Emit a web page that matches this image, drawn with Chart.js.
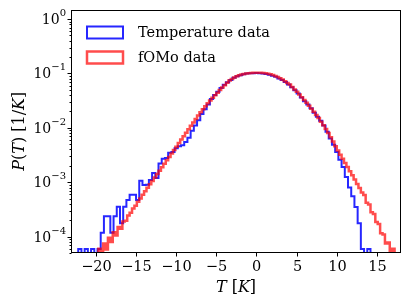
<!DOCTYPE html>
<html>
<head>
<meta charset="utf-8">
<script src="https://cdn.jsdelivr.net/npm/chart.js@4.4.1/dist/chart.umd.min.js"></script>
<style>
  html, body { margin: 0; padding: 0; background: #fff; }
  canvas { display: block; }
</style>
</head>
<body>
<canvas id="chart" width="411" height="308"></canvas>
<script>
// --- data (probability density per bin) ---
const blueLabel = 'Temperature data';
const blueFirstEdge = -22.2;
const blueBinWidth = 0.4;
const blueDensity = [
  5.9e-5, 0, 5.9e-5, 0, 5.9e-5, 0, 5.9e-5, 1.18e-4, 2.36e-4, 2.36e-4,
  1.18e-4, 2.36e-4, 3.54e-4, 1.77e-4, 3.54e-4, 4.72e-4, 5.9e-4, 5.9e-4, 4.72e-4,
  1.06e-3, 8.9e-4, 9.0e-4, 1.1e-3, 1.48e-3, 1.2e-3, 2.2e-3, 2.7e-3, 2.8e-3, 3.5e-3,
  3.6e-3, 4.2e-3, 4.6e-3, 4.8e-3, 5.5e-3, 6.6e-3, 8.8e-3, 0.011, 0.0138,
  0.018, 0.022, 0.027, 0.034, 0.040, 0.046, 0.054, 0.062, 0.069, 0.076, 0.083,
  0.089, 0.093, 0.097, 0.100, 0.101, 0.101,
  0.102,
  0.101, 0.100, 0.098, 0.095, 0.091, 0.087, 0.081, 0.076, 0.070, 0.063, 0.056,
  0.049, 0.043, 0.036, 0.031, 0.027, 0.023, 0.019, 0.016, 0.0135, 0.011, 0.0085,
  0.0064, 0.0049, 0.0036, 0.0026, 0.0019, 0.00125, 0.0008, 0.00055, 0.00035,
  0.000177, 5.9e-5, 0, 5.9e-5
];

const redLabel = 'fOMo data';
const redFirstEdge = -20.0;
const redBinWidth = 0.3;
const redDensity = [
  4.5e-5, 6.0e-5, 4.8e-5, 7.5e-5, 5.8e-5, 9.5e-5, 8.0e-5, 1.2e-4, 1.05e-4, 1.5e-4,
  1.4e-4, 1.9e-4, 1.95e-4, 2.45e-4, 2.75e-4, 3.3e-4, 3.7e-4,
  4.4e-4, 5.0e-4, 5.9e-4, 6.8e-4, 7.9e-4, 9.2e-4, 1.05e-3, 1.22e-3, 1.41e-3,
  1.63e-3, 1.89e-3, 2.18e-3, 2.53e-3, 2.92e-3, 3.38e-3, 3.9e-3,
  4.5e-3, 5.25e-3, 6.1e-3, 7.0e-3, 8.1e-3, 9.4e-3, 0.0109, 0.0126, 0.0146,
  0.0168, 0.0193, 0.0220, 0.0250, 0.0283, 0.0318, 0.0356, 0.0398,
  0.0442, 0.0495, 0.055, 0.061, 0.0676, 0.0741, 0.0794, 0.0841, 0.0891,
  0.0929, 0.0955, 0.0982, 0.100, 0.1012, 0.1023, 0.1030, 0.1033,
  0.1033, 0.1028, 0.1019, 0.1007, 0.0991, 0.0970, 0.0940, 0.0902, 0.0861,
  0.0818, 0.0771, 0.0721, 0.0671, 0.0624,
  0.0565, 0.0509, 0.0459, 0.0409, 0.0365, 0.0325, 0.0288, 0.0256, 0.0225,
  0.0197, 0.0173, 0.0151, 0.0130, 0.0112,
  0.0095, 0.0080, 0.0067, 0.0056, 0.0046, 0.00385, 0.0032, 0.0027, 0.00226,
  0.0019, 0.0016, 0.00135, 0.00112, 0.00093,
  0.00078, 0.00065, 0.00058, 0.00042, 0.00039, 0.00028, 0.00026, 0.000185,
  0.00017, 0.000115, 0.00011, 7.5e-5, 7.8e-5, 5.3e-5, 6.0e-5
];

// axes
const xTickValues = [-20, -15, -10, -5, 0, 5, 10, 15];
const xTickLabels = ['\u221220', '\u221215', '\u221210', '\u22125', '0', '5', '10', '15'];
const yTickValues = [1, 0.1, 0.01, 0.001, 0.0001];
const yTickExponents = ['0', '\u22121', '\u22122', '\u22123', '\u22124'];

const FONT = '"DejaVu Serif", "Liberation Serif", serif';
const BLUE = 'rgba(0, 0, 255, 0.85)';
const RED = 'rgba(255, 0, 0, 0.7)';
const FLOOR = 1e-7; // empty bins drop below the axis

// histogram outline: points at bin left edges, stepped
function toSteps(firstEdge, width, dens) {
  const pts = [{ x: firstEdge, y: FLOOR }];
  dens.forEach((d, i) => pts.push({ x: firstEdge + i * width, y: d > 0 ? d : FLOOR }));
  pts.push({ x: firstEdge + dens.length * width, y: FLOOR });
  return pts;
}

// text made of upright / italic pieces
function drawRuns(ctx, runs, x, y, size, align) {
  let total = 0;
  runs.forEach(r => {
    ctx.font = (r.it ? 'italic ' : '') + size + 'px ' + FONT;
    r.w = ctx.measureText(r.t).width;
    total += r.w;
  });
  let cx = align === 'center' ? x - total / 2 : x;
  runs.forEach(r => {
    ctx.font = (r.it ? 'italic ' : '') + size + 'px ' + FONT;
    ctx.fillText(r.t, cx, y);
    cx += r.w;
  });
}

const decor = {
  id: 'decor',
  afterDraw(chart) {
    const { ctx, chartArea: a, scales: { x, y } } = chart;
    ctx.save();
    ctx.strokeStyle = '#000';
    ctx.fillStyle = '#000';
    ctx.lineWidth = 1;

    // frame
    const L = Math.round(a.left) + 0.5, T = Math.round(a.top) + 0.5;
    const R = Math.round(a.right) - 0.5, B = Math.round(a.bottom) - 0.5;
    ctx.strokeRect(L, T, R - L, B - T);

    // x ticks + labels
    ctx.textAlign = 'center';
    ctx.textBaseline = 'middle';
    ctx.font = '14.5px ' + FONT;
    xTickValues.forEach((v, i) => {
      const px = Math.round(x.getPixelForValue(v)) + 0.5;
      ctx.beginPath();
      ctx.moveTo(px, B);
      ctx.lineTo(px, B + 4);
      ctx.stroke();
      ctx.fillText(xTickLabels[i], px, 267);
    });

    // y minor ticks
    for (let k = -5; k <= 0; k++) {
      for (let m = 2; m <= 9; m++) {
        const v = m * Math.pow(10, k);
        if (v < y.min || v > y.max) continue;
        const py = Math.round(y.getPixelForValue(v)) + 0.5;
        ctx.beginPath();
        ctx.moveTo(L, py);
        ctx.lineTo(L - 2, py);
        ctx.stroke();
      }
    }
    // y major ticks + labels
    yTickValues.forEach((v, i) => {
      const py = Math.round(y.getPixelForValue(v)) + 0.5;
      ctx.beginPath();
      ctx.moveTo(L, py);
      ctx.lineTo(L - 4, py);
      ctx.stroke();
      ctx.textAlign = 'right';
      ctx.font = '10px ' + FONT;
      const supW = ctx.measureText(yTickExponents[i]).width;
      ctx.fillText(yTickExponents[i], 66, py - 6);
      ctx.font = '14px ' + FONT;
      ctx.fillText('10', 66 - supW, py + 1);
    });

    // axis titles
    ctx.textAlign = 'left';
    ctx.textBaseline = 'middle';
    drawRuns(ctx, [{ t: 'T', it: true }, { t: ' [' }, { t: 'K', it: true }, { t: ']' }],
      (a.left + a.right) / 2, 288, 16, 'center');
    ctx.save();
    ctx.translate(20, (a.top + a.bottom) / 2);
    ctx.rotate(-Math.PI / 2);
    drawRuns(ctx, [{ t: 'P', it: true }, { t: '(' }, { t: 'T', it: true }, { t: ') [1/' },
      { t: 'K', it: true }, { t: ']' }], 0, 0, 16, 'center');
    ctx.restore();

    // legend
    chart.data.datasets.forEach((ds, i) => {
      const bx = a.left + 16, by = a.top + 17 + i * 25;
      ctx.strokeStyle = ds.borderColor;
      ctx.lineWidth = ds.borderWidth;
      ctx.strokeRect(bx, by, 36, 12);
      ctx.fillStyle = '#000';
      ctx.font = '14.5px ' + FONT;
      ctx.textAlign = 'left';
      ctx.fillText(ds.label, a.left + 67, by + 6.5);
    });
    ctx.restore();
  }
};

new Chart(document.getElementById('chart'), {
  type: 'line',
  data: {
    datasets: [
      {
        label: blueLabel,
        data: toSteps(blueFirstEdge, blueBinWidth, blueDensity),
        borderColor: BLUE,
        borderWidth: 2,
        stepped: true,
        pointRadius: 0,
        fill: false,
        clip: 0,
        order: 1
      },
      {
        label: redLabel,
        data: toSteps(redFirstEdge, redBinWidth, redDensity),
        borderColor: RED,
        borderWidth: 2.5,
        stepped: true,
        pointRadius: 0,
        fill: false,
        clip: 0,
        order: 0
      }
    ]
  },
  options: {
    responsive: false,
    animation: false,
    devicePixelRatio: 1,
    layout: { padding: { left: 0, top: 9.5, right: 10, bottom: 0 } },
    plugins: { legend: { display: false }, tooltip: { enabled: false } },
    scales: {
      x: {
        type: 'linear',
        min: -23.1,
        max: 18.0,
        grid: { display: false },
        border: { display: false },
        ticks: { display: false },
        afterFit(s) { s.height = 55; }
      },
      y: {
        type: 'logarithmic',
        min: 5e-5,
        max: 1.5,
        grid: { display: false },
        border: { display: false },
        ticks: { display: false },
        afterFit(s) { s.width = 71; }
      }
    }
  },
  plugins: [decor]
});
</script>
</body>
</html>
